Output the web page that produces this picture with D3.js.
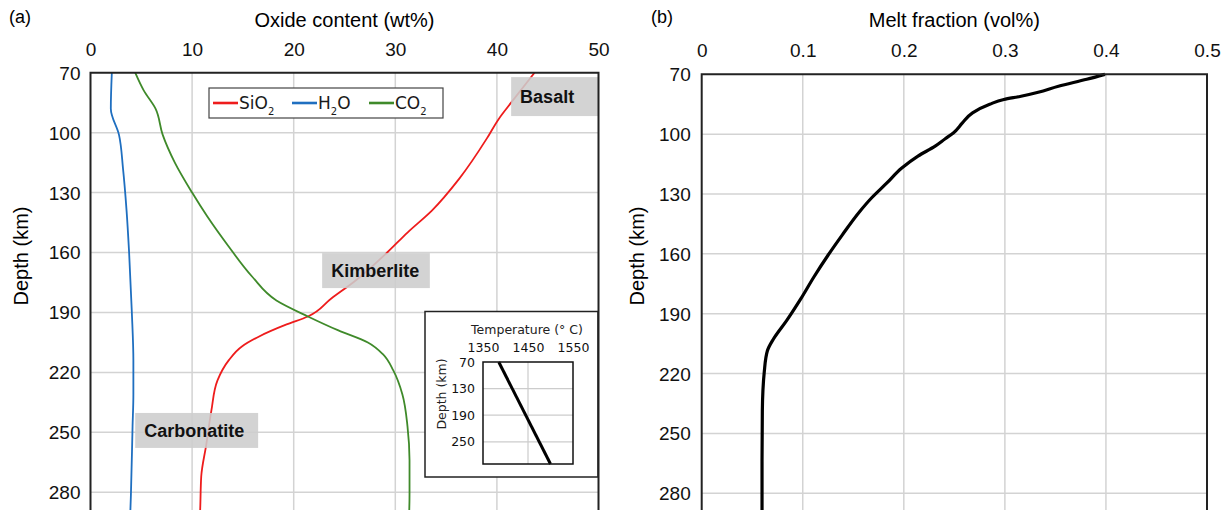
<!DOCTYPE html>
<html>
<head>
<meta charset="utf-8">
<script src="https://cdn.jsdelivr.net/npm/d3@7"></script>
<style>
  html, body { margin: 0; padding: 0; background: #fff; }
  svg { display: block; font-family: "Liberation Sans", Arial, sans-serif; }
  .grid line { stroke: #d3d3d3; stroke-width: 1.5; }
  .tick text { fill: #111; }
</style>
</head>
<body>
<div class="js-container"></div>
<script>
// Panel (a): oxide content vs depth
var depthTicks = [70, 100, 130, 160, 190, 220, 250, 280];
var oxideTicks = [0, 10, 20, 30, 40, 50];
var meltTicks = [0, 0.1, 0.2, 0.3, 0.4, 0.5];

var sio2Depth = [70, 85, 93, 103, 123, 139, 150, 160, 174, 183, 192, 196, 202, 207, 214, 224, 239, 256, 272, 288, 300];
var sio2 = [43.7, 41.4, 40.2, 39.0, 36.3, 33.6, 31.2, 29.2, 26.1, 23.7, 21.4, 19.3, 16.6, 14.9, 13.6, 12.5, 11.9, 11.4, 10.9, 10.8, 10.7];

var h2oDepth = [70, 88, 101, 118, 139, 160, 190, 214, 231, 247, 281, 300];
var h2o = [2.1, 2.0, 2.8, 3.2, 3.55, 3.8, 4.07, 4.22, 4.22, 4.14, 3.98, 3.85];

var co2Depth = [70, 79, 88, 101, 115, 130, 142, 157, 172, 184, 192, 199, 205, 211, 219, 231, 247, 264, 281, 300];
var co2 = [4.4, 5.25, 6.4, 7.1, 8.3, 10.0, 11.5, 13.6, 15.9, 18.3, 21.4, 24.4, 27.3, 28.8, 29.8, 30.7, 31.2, 31.4, 31.4, 31.3];

// Panel (b): melt fraction vs depth
var meltDepth = [70, 72.5, 76, 79, 81, 82.6, 85, 89.3, 94.4, 99.4, 102.3, 106, 111, 117, 124.6, 132, 139, 150.6, 160.7, 171.6, 182.6, 193.5, 202.7, 208.6, 218.7, 238.8, 264, 300];
var melt = [0.399, 0.381, 0.353, 0.333, 0.316, 0.299, 0.285, 0.268, 0.258, 0.249, 0.241, 0.231, 0.214, 0.198, 0.183, 0.168, 0.156, 0.139, 0.125, 0.111, 0.098, 0.084, 0.071, 0.065, 0.062, 0.060, 0.0597, 0.0597];

// Inset: temperature vs depth
var tempDepth = [70, 300];
var temp = [1385, 1500];
var tempTicks = [1350, 1450, 1550];
var insetDepthTicks = [70, 130, 190, 250];

var W = 1224, H = 510;
var thinFont = '"DejaVu Sans", sans-serif';

var svg = d3.select('.js-container').append('svg')
    .attr('width', W).attr('height', H);

function zip(ds, vs) {
  return ds.map(function(d, i) { return {d: d, v: vs[i]}; });
}

function drawPanel(opt) {
  var x = opt.x, y = opt.y;
  var x0 = x.range()[0], x1 = x.range()[1], y0 = y.range()[0];
  var g = svg.append('g');

  // gridlines
  var grid = g.append('g').attr('class', 'grid');
  grid.selectAll('.vg').data(opt.xTicks.slice(1, -1)).enter().append('line')
      .attr('x1', function(d) { return x(d); }).attr('x2', function(d) { return x(d); })
      .attr('y1', y0).attr('y2', H + 10);
  grid.selectAll('.hg').data(depthTicks.slice(1)).enter().append('line')
      .attr('x1', x0).attr('x2', x1)
      .attr('y1', function(d) { return y(d); }).attr('y2', function(d) { return y(d); });

  // axes
  var ax = g.append('g').attr('transform', 'translate(0,' + y0 + ')')
      .call(d3.axisTop(x).tickValues(opt.xTicks).tickSize(0).tickPadding(17).tickFormat(d3.format('')));
  ax.select('.domain').remove();
  ax.selectAll('text').attr('font-size', 19);

  var ay = g.append('g').attr('transform', 'translate(' + x0 + ',0)')
      .call(d3.axisLeft(y).tickValues(depthTicks).tickSize(0).tickPadding(opt.yPad));
  ay.select('.domain').remove();
  ay.selectAll('text').attr('font-size', 19).attr('dy', '0.34em');

  g.append('text').attr('x', (x0 + x1) / 2).attr('y', 27)
      .attr('text-anchor', 'middle').attr('font-size', 20).text(opt.title);
  g.append('text').attr('x', opt.panelX).attr('y', 23)
      .attr('font-size', 18).text(opt.panelLabel);
  g.append('text')
      .attr('transform', 'translate(' + opt.depthX + ',256) rotate(-90)')
      .attr('text-anchor', 'middle').attr('font-size', 20).text('Depth (km)');

  return g;
}

function drawFrame(g, x, y) {
  var x0 = x.range()[0], x1 = x.range()[1], y0 = y.range()[0];
  g.append('path')
      .attr('d', 'M' + x0 + ',' + (H + 10) + 'V' + y0 + 'H' + x1 + 'V' + (H + 10))
      .attr('fill', 'none').attr('stroke', '#222').attr('stroke-width', 2);
}

// ---------- Panel (a)
var xA = d3.scaleLinear([0, 50], [90.5, 598.5]);
var yA = d3.scaleLinear([70, 300], [72.7, 72.7 + 230 * 1.998]);

var gA = drawPanel({x: xA, y: yA, xTicks: oxideTicks, title: 'Oxide content (wt%)',
  panelLabel: '(a)', panelX: 9, depthX: 28, yPad: 10});

var lineA = d3.line()
    .x(function(p) { return xA(p.v); })
    .y(function(p) { return yA(p.d); })
    .curve(d3.curveMonotoneY);

var seriesA = [
  {name: 'SiO', sub: '2', color: '#ee1c1c', pts: zip(sio2Depth, sio2)},
  {name: 'H', sub: '2', after: 'O', color: '#1f6fc0', pts: zip(h2oDepth, h2o)},
  {name: 'CO', sub: '2', color: '#3f8a2a', pts: zip(co2Depth, co2)}
];

gA.selectAll('.series').data(seriesA).enter().append('path')
    .attr('d', function(s) { return lineA(s.pts); })
    .attr('fill', 'none')
    .attr('stroke', function(s) { return s.color; })
    .attr('stroke-width', 1.8);

// rock-type labels (placed in data units)
var rockLabels = [
  {text: 'Basalt', v0: 41.4, v1: 50, d0: 72.2, d1: 91.7},
  {text: 'Kimberlite', v0: 22.8, v1: 33.4, d0: 160.3, d1: 177.8},
  {text: 'Carbonatite', v0: 4.4, v1: 16.5, d0: 240.3, d1: 257.8}
];
var rl = gA.selectAll('.rock').data(rockLabels).enter().append('g');
rl.append('rect')
    .attr('x', function(r) { return xA(r.v0); })
    .attr('y', function(r) { return yA(r.d0); })
    .attr('width', function(r) { return xA(r.v1) - xA(r.v0); })
    .attr('height', function(r) { return yA(r.d1) - yA(r.d0); })
    .attr('fill', '#cdcdcd').attr('fill-opacity', 0.88);
rl.append('text')
    .attr('x', function(r) { return xA(r.v0) + 9; })
    .attr('y', function(r) { return (yA(r.d0) + yA(r.d1)) / 2; })
    .attr('dy', '0.36em')
    .attr('font-size', 18).attr('font-weight', 'bold').attr('fill', '#111')
    .text(function(r) { return r.text; });

// legend
var leg = gA.append('g');
leg.append('rect').attr('x', 209).attr('y', 88).attr('width', 234).attr('height', 30)
    .attr('fill', '#fff').attr('stroke', '#444').attr('stroke-width', 1.2);
var legX = [213, 292, 369];
var li = leg.selectAll('.li').data(seriesA).enter().append('g')
    .attr('transform', function(s, i) { return 'translate(' + legX[i] + ',103)'; });
li.append('line').attr('x1', 0).attr('x2', 25).attr('stroke', function(s) { return s.color; })
    .attr('stroke-width', 2.6);
var lt = li.append('text').attr('x', 26).attr('dy', '0.36em')
    .attr('font-family', thinFont).attr('font-size', 17).attr('fill', '#1a1a1a');
lt.append('tspan').text(function(s) { return s.name; });
lt.append('tspan').attr('font-size', 10).attr('dy', 6).text(function(s) { return s.sub; });
lt.append('tspan').attr('dy', -6).text(function(s) { return s.after || ''; });

// inset
var inset = gA.append('g');
inset.append('rect').attr('x', 425).attr('y', 311.5).attr('width', 173).attr('height', 165.5)
    .attr('fill', '#fff').attr('stroke', '#222').attr('stroke-width', 1.5);
var xI = d3.scaleLinear([1350, 1550], [483, 573]);
var yI = d3.scaleLinear([70, 300], [362, 464]);
inset.selectAll('.ivg').data(tempTicks.slice(1, -1)).enter().append('line')
    .attr('x1', function(d) { return xI(d); }).attr('x2', function(d) { return xI(d); })
    .attr('y1', yI(70)).attr('y2', yI(300)).attr('stroke', '#ccc').attr('stroke-width', 1.2);
inset.selectAll('.ihg').data(insetDepthTicks.slice(1)).enter().append('line')
    .attr('x1', xI(1350)).attr('x2', xI(1550))
    .attr('y1', function(d) { return yI(d); }).attr('y2', function(d) { return yI(d); })
    .attr('stroke', '#ccc').attr('stroke-width', 1.2);
var iax = inset.append('g').attr('transform', 'translate(0,' + yI(70) + ')')
    .call(d3.axisTop(xI).tickValues(tempTicks).tickSize(0).tickPadding(10).tickFormat(d3.format('d')));
iax.select('.domain').remove();
var iay = inset.append('g').attr('transform', 'translate(' + xI(1350) + ',0)')
    .call(d3.axisLeft(yI).tickValues(insetDepthTicks).tickSize(0).tickPadding(8).tickFormat(d3.format('d')));
iay.select('.domain').remove();
inset.selectAll('.tick text').attr('font-size', 12.5)
    .attr('font-family', thinFont).attr('fill', '#222');
inset.append('text').attr('x', 527).attr('y', 334).attr('text-anchor', 'middle')
    .attr('font-size', 12.5).attr('font-family', thinFont).attr('fill', '#222')
    .text('Temperature (° C)');
inset.append('text').attr('transform', 'translate(446,394) rotate(-90)').attr('text-anchor', 'middle')
    .attr('font-size', 12.5).attr('font-family', thinFont).attr('fill', '#222')
    .text('Depth (km)');
inset.append('path')
    .attr('d', d3.line().x(function(p) { return xI(p.v); }).y(function(p) { return yI(p.d); })(zip(tempDepth, temp)))
    .attr('fill', 'none').attr('stroke', '#000').attr('stroke-width', 3);
inset.append('rect').attr('x', xI(1350)).attr('y', yI(70))
    .attr('width', xI(1550) - xI(1350)).attr('height', yI(300) - yI(70))
    .attr('fill', 'none').attr('stroke', '#111').attr('stroke-width', 1.5);

drawFrame(gA, xA, yA);

// ---------- Panel (b)
var xB = d3.scaleLinear([0, 0.5], [701.7, 1207]);
var yB = d3.scaleLinear([70, 300], [74.3, 74.3 + 230 * 1.995]);

var gB = drawPanel({x: xB, y: yB, xTicks: meltTicks, title: 'Melt fraction (vol%)',
  panelLabel: '(b)', panelX: 651, depthX: 644, yPad: 11});

gB.append('path')
    .attr('d', d3.line()
      .x(function(p) { return xB(p.v); })
      .y(function(p) { return yB(p.d); })
      .curve(d3.curveMonotoneY)(zip(meltDepth, melt)))
    .attr('fill', 'none').attr('stroke', '#000').attr('stroke-width', 3.2);

drawFrame(gB, xB, yB);
</script>
</body>
</html>
